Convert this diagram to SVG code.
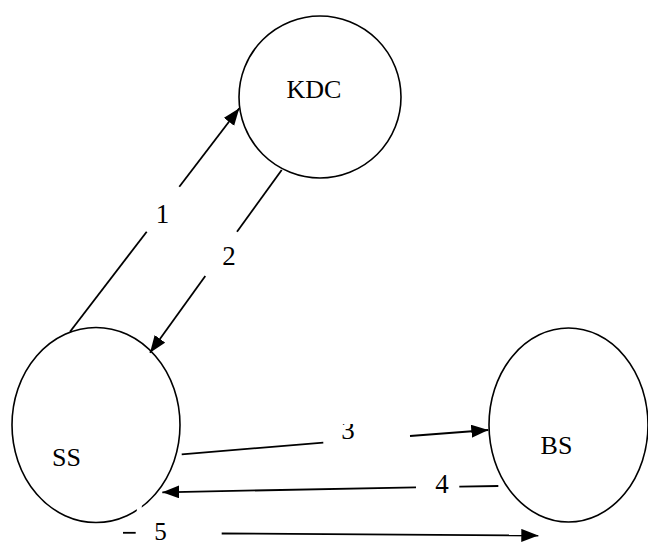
<svg xmlns="http://www.w3.org/2000/svg" width="648" height="544" viewBox="0 0 648 544">
<style>
.node{fill:#fff;stroke:#000;stroke-width:1.6}
.lbl{font-family:"Liberation Serif","Times New Roman",serif;font-size:26px;fill:#000;text-anchor:middle}
.num{font-family:"Liberation Serif","Times New Roman",serif;font-size:27px;fill:#000;text-anchor:middle}
.edge{stroke:#000;stroke-width:1.8;fill:none}
</style>
<defs>
<marker id="ah" markerUnits="userSpaceOnUse" markerWidth="18" markerHeight="14" refX="17" refY="6.5" orient="auto">
<path d="M0,0 L17,6.5 L0,13 Z" fill="#000"/>
</marker>
<clipPath id="clip3"><rect x="330" y="424" width="40" height="30"/></clipPath>
</defs>
<rect width="648" height="544" fill="#fff"/>
<g id="node-kdc">
<ellipse class="node" cx="320" cy="97" rx="81" ry="81"/>
<text class="lbl" x="314" y="98">KDC</text>
</g>
<g id="node-ss">
<ellipse class="node" cx="96" cy="425" rx="84" ry="97.5"/>
<text class="lbl" x="66.5" y="466">SS</text>
</g>
<g id="node-bs">
<ellipse class="node" cx="568.5" cy="425" rx="79.5" ry="97"/>
<text class="lbl" x="556.5" y="454">BS</text>
</g>
<g id="connectors">
<line class="edge" x1="70" y1="331.7" x2="146.7" y2="231.7"/>
<line class="edge" x1="179.3" y1="186.7" x2="239.3" y2="108.3" marker-end="url(#ah)"/>
<text class="num" x="162.5" y="222.7">1</text>
<line class="edge" x1="281.7" y1="170" x2="237" y2="231.7"/>
<line class="edge" x1="205.3" y1="276" x2="150" y2="352.7" marker-end="url(#ah)"/>
<text class="num" x="229" y="265">2</text>
<line class="edge" x1="181.7" y1="454.3" x2="323.3" y2="442.7"/>
<line class="edge" x1="410" y1="436" x2="488.3" y2="430" marker-end="url(#ah)"/>
<text class="num" x="348" y="439" clip-path="url(#clip3)">3</text>
<line class="edge" x1="498.3" y1="486" x2="459.3" y2="486.7"/>
<line class="edge" x1="416" y1="487.3" x2="162.3" y2="492.3" marker-end="url(#ah)"/>
<text class="num" x="442" y="493">4</text>
<rect x="136.8" y="502" width="5" height="11" fill="#fff"/>
<line class="edge" x1="123" y1="532.8" x2="135.7" y2="532.8"/>
<line class="edge" x1="221.7" y1="533.5" x2="538.3" y2="535.5" marker-end="url(#ah)"/>
<text class="num" style="font-size:25px" x="160.5" y="539.5">5</text>
</g>
</svg>
